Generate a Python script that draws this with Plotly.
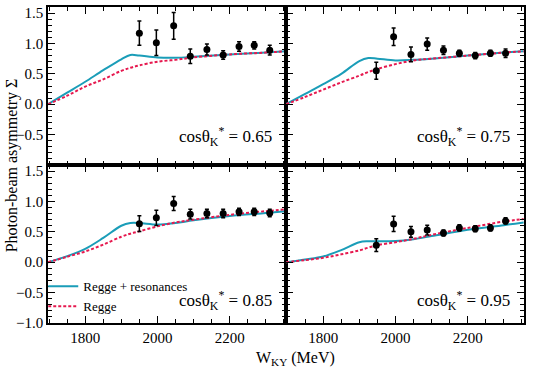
import plotly.graph_objects as go
from plotly.subplots import make_subplots

# curve grid (MeV)
w_curve = [1697, 1750, 1800, 1850, 1900, 1925, 1950, 2000, 2050, 2100, 2200, 2300, 2355]

# Regge + resonances (solid) and Regge (dashed) for each cos theta bin
res_065 = [0, 0.19, 0.37, 0.56, 0.74, 0.81, 0.80, 0.77, 0.765, 0.78, 0.82, 0.85, 0.87]
regge_065 = [0, 0.14, 0.29, 0.41, 0.55, 0.60, 0.64, 0.70, 0.73, 0.77, 0.82, 0.85, 0.87]
res_075 = [0, 0.17, 0.33, 0.50, 0.71, 0.76, 0.75, 0.72, 0.73, 0.75, 0.80, 0.85, 0.87]
regge_075 = [0, 0.12, 0.24, 0.36, 0.47, 0.53, 0.58, 0.66, 0.72, 0.75, 0.80, 0.85, 0.87]
res_085 = [0, 0.10, 0.22, 0.40, 0.60, 0.645, 0.645, 0.62, 0.645, 0.69, 0.76, 0.81, 0.84]
regge_085 = [0, 0.09, 0.177, 0.29, 0.42, 0.47, 0.51, 0.59, 0.655, 0.70, 0.78, 0.84, 0.87]
res_095 = [0, 0.045, 0.095, 0.20, 0.33, 0.345, 0.345, 0.35, 0.38, 0.43, 0.535, 0.61, 0.655]
regge_095 = [0, 0.035, 0.073, 0.13, 0.195, 0.24, 0.28, 0.33, 0.385, 0.45, 0.565, 0.67, 0.71]

# measured points
w_left = [1950, 1997, 2045, 2091, 2137, 2182, 2226, 2268, 2311]
w_right = [1947, 1995, 2043, 2088, 2133, 2177, 2221, 2263, 2305]

sig_065 = [1.17, 1.01, 1.29, 0.79, 0.90, 0.81, 0.95, 0.97, 0.89]
err_065 = [0.20, 0.21, 0.22, 0.12, 0.09, 0.07, 0.08, 0.06, 0.08]
sig_075 = [0.55, 1.11, 0.82, 0.99, 0.89, 0.84, 0.80, 0.84, 0.84]
err_075 = [0.14, 0.145, 0.12, 0.10, 0.07, 0.05, 0.05, 0.05, 0.07]
sig_085 = [0.635, 0.73, 0.965, 0.79, 0.80, 0.80, 0.83, 0.83, 0.81]
err_085 = [0.13, 0.127, 0.115, 0.08, 0.07, 0.07, 0.06, 0.06, 0.06]
sig_095 = [0.28, 0.63, 0.50, 0.53, 0.48, 0.565, 0.55, 0.565, 0.68]
err_095 = [0.105, 0.125, 0.09, 0.08, 0.05, 0.05, 0.05, 0.05, 0.05]

cos_labels = ["0.65", "0.75", "0.85", "0.95"]

BLUE = "#1a9db8"
RED = "#e6194f"
FONT = "Liberation Serif, Times New Roman, Tinos, DejaVu Serif, serif"

panels = [
    (1, 1, w_left, sig_065, err_065, res_065, regge_065),
    (1, 2, w_right, sig_075, err_075, res_075, regge_075),
    (2, 1, w_left, sig_085, err_085, res_085, regge_085),
    (2, 2, w_right, sig_095, err_095, res_095, regge_095),
]

fig = make_subplots(rows=2, cols=2, horizontal_spacing=0, vertical_spacing=0,
                    shared_xaxes=True, shared_yaxes=True)

for i, (r, c, w, sig, err, res, reg) in enumerate(panels):
    first = (i == 2)
    fig.add_trace(go.Scatter(
        x=w_curve, y=res, mode="lines", line=dict(color=BLUE, width=2, shape="spline"),
        name="Regge + resonances", showlegend=first), row=r, col=c)
    fig.add_trace(go.Scatter(
        x=w_curve, y=reg, mode="lines",
        line=dict(color=RED, width=2, dash="3px,2px", shape="spline"),
        name="Regge", showlegend=first), row=r, col=c)
    fig.add_trace(go.Scatter(
        x=w, y=sig, mode="markers",
        marker=dict(color="black", size=7),
        error_y=dict(type="data", array=err, color="black", thickness=1.5, width=2),
        showlegend=False), row=r, col=c)

    xd = "x domain" if i == 0 else "x%d domain" % (i + 1)
    yd = "y domain" if i == 0 else "y%d domain" % (i + 1)
    fig.add_annotation(
        xref=xd, yref=yd, x=0.95, y=0.18 if r == 1 else 0.14,
        xanchor="right", yanchor="middle", showarrow=False,
        text="cosθ<sub>K</sub><sup>*</sup> = " + cos_labels[i],
        font=dict(family=FONT, size=17, color="black"))

axis_style = dict(
    showline=True, linecolor="black", linewidth=1.5, mirror="ticks",
    ticks="inside", ticklen=7, tickwidth=1, tickcolor="black",
    showgrid=False, zeroline=False,
    tickfont=dict(family=FONT, size=15, color="black"),
    minor=dict(ticks="inside", ticklen=4, tickwidth=1, tickcolor="black"),
)

fig.update_xaxes(range=[1697, 2356], tickvals=[1800, 2000, 2200],
                 minor_dtick=50, minor_tick0=1700, **axis_style)
fig.update_yaxes(range=[-1.0, 1.6], dtick=0.5, tickformat=".1f",
                 minor_dtick=0.1, minor_tick0=0, **axis_style)
fig.update_yaxes(tickvals=[-0.5, 0, 0.5, 1.0, 1.5], row=1, col=1)
fig.update_yaxes(tickvals=[-0.5, 0, 0.5, 1.0, 1.5], row=1, col=2)

fig.add_annotation(xref="paper", yref="paper", x=-0.075, y=0.5, textangle=-90,
                   xanchor="center", yanchor="middle", showarrow=False,
                   text="Photon-beam asymmetry Σ",
                   font=dict(family=FONT, size=16, color="black"))
fig.add_annotation(xref="paper", yref="paper", x=0.52, y=-0.075,
                   xanchor="center", yanchor="top", showarrow=False,
                   text="W<sub>KY</sub> (MeV)",
                   font=dict(family=FONT, size=16, color="black"))

fig.update_layout(
    width=541, height=368,
    margin=dict(l=48, r=17, t=5, b=45),
    paper_bgcolor="white", plot_bgcolor="white",
    font=dict(family=FONT, color="black"),
    legend=dict(x=-0.01, y=0.005, xanchor="left", yanchor="bottom",
                bgcolor="rgba(0,0,0,0)", itemwidth=30, tracegroupgap=0,
                font=dict(family=FONT, size=13, color="black")),
)

# page body has a default 8px margin; drop it so the figure sits at the corner
fig.write_html("out.html", config={"displayModeBar": False},
               post_script="document.body.style.margin='0';")
